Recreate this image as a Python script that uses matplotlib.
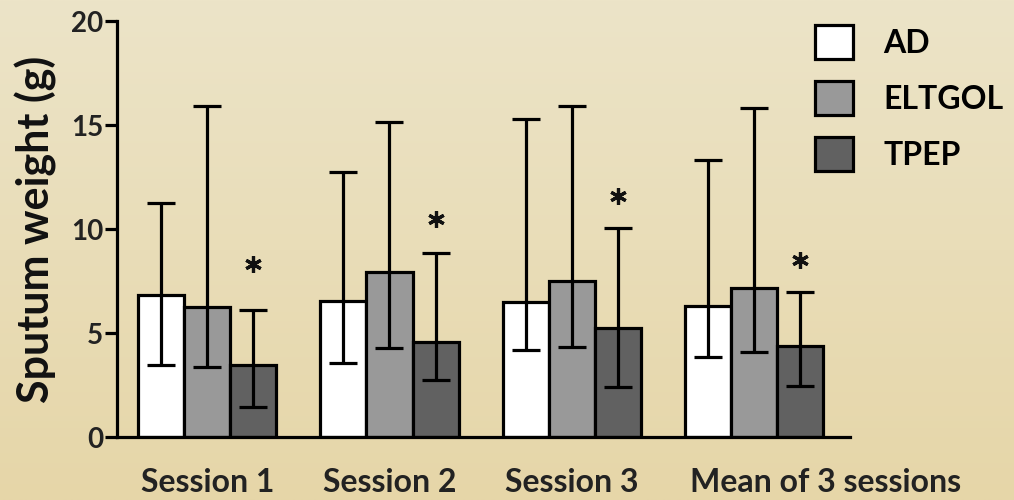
import numpy as np
import matplotlib
matplotlib.use("Agg")
import matplotlib.pyplot as plt
from matplotlib.patches import Patch
from matplotlib.transforms import ScaledTranslation

# ---- data ----
categories = ["Session 1", "Session 2", "Session 3", "Mean of 3 sessions"]
series_names = ["AD", "ELTGOL", "TPEP"]
means = {
    "AD":     [6.85, 6.55, 6.50, 6.30],
    "ELTGOL": [6.25, 7.95, 7.50, 7.15],
    "TPEP":   [3.45, 4.57, 5.24, 4.38],
}
err_upper = {
    "AD":     [11.25, 12.75, 15.30, 13.30],
    "ELTGOL": [15.90, 15.15, 15.90, 15.80],
    "TPEP":   [6.10, 8.85, 10.05, 6.95],
}
err_lower = {
    "AD":     [3.46, 3.55, 4.18, 3.85],
    "ELTGOL": [3.37, 4.27, 4.33, 4.10],
    "TPEP":   [1.45, 2.74, 2.40, 2.45],
}
star_y = [8.3, 10.5, 11.6, 8.5]
yticks = [0, 5, 10, 15, 20]
ylabel = "Sputum weight (g)"

colors = {"AD": "#ffffff", "ELTGOL": "#999999", "TPEP": "#616161"}

plt.rcParams['font.family'] = ['Lato', 'DejaVu Sans']
plt.rcParams['font.weight'] = 'bold'

W, H = 1014, 500
fig = plt.figure(figsize=(W / 100, H / 100), dpi=100)

# background gradient
bg = fig.add_axes([0, 0, 1, 1], zorder=-10)
top = np.array([236, 228, 200]) / 255
bot = np.array([230, 214, 168]) / 255
t = np.linspace(0, 1, 256)[:, None]
grad = top[None, :] * (1 - t) + bot[None, :] * t
img = np.repeat(grad[:, None, :], 2, axis=1)
bg.imshow(img, aspect='auto', extent=[0, 1, 0, 1], origin='upper')
bg.set_axis_off()

ax = fig.add_axes([117 / W, 1 - 437 / H, (850 - 117) / W, (437 - 21) / H])
ax.set_facecolor('none')

x = np.arange(len(categories))
bw = 0.253
lw = 2.3
for i, name in enumerate(series_names):
    xs = x + (i - 1) * bw
    m = np.array(means[name])
    up = np.array(err_upper[name]) - m
    lo = m - np.array(err_lower[name])
    ax.bar(xs, m, width=bw, color=colors[name], edgecolor='black', linewidth=lw,
           label=name, zorder=2)
    ax.errorbar(xs, m, yerr=[lo, up], fmt='none', ecolor='black', elinewidth=lw,
                capsize=10, capthick=lw, zorder=3)

ax.plot(x + bw, star_y, linestyle='none', marker=(6, 2, 0), markersize=12,
        markeredgewidth=2.3, color='#111111', zorder=4)

ax.set_ylim(0, 20)
ax.set_xlim(-0.495, 3.527)
ax.set_yticks(yticks)
ax.set_xticks(x)
ax.set_xticklabels(categories, fontsize=23, fontweight='bold', color='#222222')
ax.tick_params(axis='x', length=0, pad=22)
ax.tick_params(axis='y', length=9, width=lw, pad=1, labelsize=20, labelcolor='#222222')
for lab in ax.get_yticklabels():
    lab.set_fontweight('bold')
# last category label sits to the right of its group in the reference
last = ax.get_xticklabels()[-1]
last.set_transform(last.get_transform() + ScaledTranslation(0.72, 0, fig.dpi_scale_trans))

ax.set_ylabel(ylabel, fontsize=31, fontweight='bold', labelpad=10, color='#111111')
for s in ['top', 'right']:
    ax.spines[s].set_visible(False)
for s in ['left', 'bottom']:
    ax.spines[s].set_linewidth(lw)

handles = [Patch(facecolor=colors[n], edgecolor='black', linewidth=lw) for n in series_names]
leg = ax.legend(handles, series_names, loc='upper left',
                frameon=False, handlelength=1.19, handleheight=1.25, borderpad=0,
                borderaxespad=0, handletextpad=0.94, labelspacing=0.7,
                prop={'weight': 'bold', 'size': 23})
leg.set_bbox_to_anchor((815 / W, 1 - 25 / H), transform=fig.transFigure)

fig.savefig("out.png", dpi=100)
